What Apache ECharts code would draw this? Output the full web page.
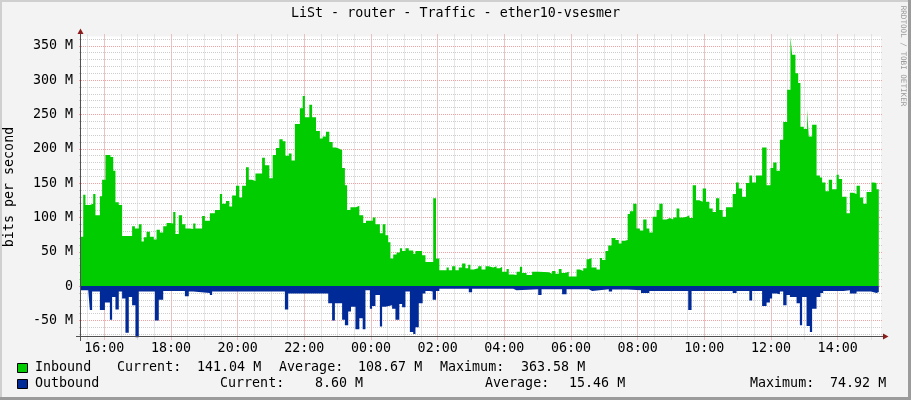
<!DOCTYPE html>
<html><head><meta charset="utf-8">
<script src="https://cdn.jsdelivr.net/npm/echarts@6/dist/echarts.min.js"></script>
<style>html,body{margin:0;padding:0;background:#f3f3f3}#c{width:911px;height:400px}</style>
</head><body><div id="c"></div>
<script>
// ---- text ----
const chartTitle = 'LiSt - router - Traffic - ether10-vsesmer';
const yAxisTitle = 'bits per second';
const watermark = 'RRDTOOL / TOBI OETIKER';
const seriesNames = ['Inbound', 'Outbound'];
const statLabels = ['Current:', 'Average:', 'Maximum:'];
const inboundStats = ['141.04', '108.67', '363.58'];
const outboundStats = ['8.60', '15.46', '74.92'];
const windowStart = '15:18';
const dataEnd = '15:14';

// ---- data: [step start time, M bits/s] ----
const inbound = [
 ['15:18',72],['15:22',133],['15:26',118],['15:34',120],['15:40',134],['15:44',103],['15:52',131],['15:56',155],['16:02',191],['16:11',188],
 ['16:16',168],['16:20',122],['16:26',118],['16:32',73],['16:50',87],['16:55',84],['17:02',90],['17:07',65],['17:11',71],['17:16',79],
 ['17:22',72],['17:29',68],['17:34',82],['17:40',78],['17:46',87],['17:52',92],['17:58',91],['18:04',108],['18:08',76],['18:14',103],
 ['18:20',90],['18:26',84],['18:34',83],['18:40',91],['18:44',84],['18:56',102],['19:01',95],['19:10',106],['19:19',111],['19:28',134],
 ['19:32',120],['19:39',124],['19:45',116],['19:50',132],['19:57',146],['20:03',129],['20:08',146],['20:15',173],['20:20',155],['20:26',153],
 ['20:32',164],['20:44',187],['20:49',176],['20:57',157],['21:03',191],['21:09',201],['21:15',214],['21:21',211],['21:26',190],['21:32',193],
 ['21:37',183],['21:43',236],['21:52',259],['21:57',277],['22:01',246],['22:09',264],['22:14',246],['22:21',226],['22:28',215],['22:33',218],
 ['22:39',225],['22:45',210],['22:51',202],['22:57',200],['23:03',198],['23:08',172],['23:13',147],['23:17',111],['23:23',115],['23:33',117],
 ['23:39',103],['23:46',92],['23:51',95],['00:03',100],['00:08',90],['00:16',77],['00:21',90],['00:26',74],['00:31',64],['00:35',40],
 ['00:40',46],['00:46',49],['00:52',55],['00:56',51],['01:02',55],['01:08',52],['01:16',47],['01:20',51],['01:32',45],['01:38',35],
 ['01:52',128],['01:57',40],['02:03',23],['02:16',27],['02:20',23],['02:26',29],['02:32',23],['02:38',27],['02:44',33],['02:50',26],
 ['02:55',31],['02:59',24],['03:05',26],['03:13',29],['03:19',24],['03:26',29],['03:32',27],['03:40',29],['03:46',26],['03:52',28],
 ['03:56',21],['04:04',25],['04:08',17],['04:16',16],['04:22',21],['04:28',28],['04:32',19],['04:40',16],['04:50',21],['05:02',20],
 ['05:20',18],['05:26',22],['05:32',18],['05:38',25],['05:43',19],['05:49',21],['05:56',14],['06:10',24],['06:16',22],['06:22',26],
 ['06:28',39],['06:32',41],['06:37',27],['06:46',24],['06:52',41],['06:56',38],['07:02',51],['07:07',59],['07:13',70],['07:20',67],
 ['07:26',62],['07:31',66],['07:37',67],['07:42',105],['07:46',109],['07:52',120],['07:58',84],['08:04',81],['08:10',97],['08:16',84],
 ['08:21',78],['08:27',101],['08:34',111],['08:39',120],['08:45',97],['08:52',99],['08:58',97],['09:04',100],['09:10',113],['09:15',100],
 ['09:22',101],['09:28',103],['09:33',99],['09:39',147],['09:45',125],['09:51',123],['09:57',142],['10:03',123],['10:09',113],['10:15',108],
 ['10:21',128],['10:27',111],['10:33',101],['10:39',115],['10:51',134],['10:57',151],['11:02',142],['11:08',130],['11:15',150],['11:21',161],
 ['11:26',151],['11:33',161],['11:44',202],['11:52',147],['11:59',172],['12:04',180],['12:10',168],['12:16',213],['12:22',239],['12:29',286],
 ['12:35',363.58],['12:38',337],['12:44',310],['12:49',296],['12:53',232],['12:59',229],['13:05',258],['13:08',218],['13:14',235],['13:22',161],
 ['13:28',158],['13:32',151],['13:38',138],['13:44',155],['13:50',141],['13:58',162],['14:02',156],['14:08',130],['14:16',106],['14:22',136],
 ['14:28',134],['14:34',146],['14:40',129],['14:46',120],['14:52',137],['15:01',151],['15:05',150],['15:10',141.04]
];
const outbound = [
 ['15:18',6],['15:31',8],['15:34',35],['15:38',8],['15:52',35],['16:01',24],['16:10',49],['16:14',16],['16:20',34],['16:26',8],
 ['16:32',18],['16:38',68],['16:44',16],['16:50',28],['16:56',74.92],['17:02',8],['17:31',50],['17:38',20],['17:46',7],['18:25',15],
 ['18:32',8],['18:40',10],['19:10',13],['19:14',8],['21:25',34],['21:31',11],['22:43',25],['22:50',50],['22:55',25],['23:08',49],
 ['23:13',57],['23:19',37],['23:24',30],['23:32',63],['23:39',47],['23:45',63],['23:50',6],['23:58',33],['00:02',29],['00:08',13],
 ['00:16',59],['00:20',30],['00:26',28],['00:38',33],['00:44',49],['00:51',26],['00:56',31],['01:02',8],['01:10',67],['01:16',70],
 ['01:20',60],['01:26',25],['01:33',11],['01:38',7],['01:46',8],['01:51',20],['01:57',7],['02:03',4],['02:56',9],['03:02',4],
 ['04:16',6],['04:22',4.5],['05:01',13],['05:07',4.5],['05:44',12],['05:52',4.5],['06:32',7],['06:38',4.5],['07:08',8],['07:14',5],
 ['07:42',6],['08:06',10],['08:21',7],['09:31',35],['09:37',7],['10:51',10],['10:58',7],['11:21',21],['11:26',7],['11:44',29],
 ['11:52',24],['11:58',18],['12:02',11],['12:10',12],['12:16',8],['12:22',28],['12:28',13],['12:34',16],['12:46',25],['12:52',57],
 ['12:56',16],['13:04',58],['13:10',67],['13:14',33],['13:22',16],['13:29',10],['13:34',7],['14:10',6],['14:22',11],['14:34',8],
 ['15:00',10],['15:10',8.6]
];

// ---- helpers ----
function toMin(s){const [h,m]=s.split(':').map(Number);let v=h*60+m;const st=15*60+18;return v<st?v+1440:v;}
const X0 = toMin(windowStart), X1 = X0 + 1440;
const Y_MAX = +inboundStats[2], Y_MIN = -outboundStats[2];
const P = {left:81, top:36.5, width:800, height:301};
const yPx = v => P.top + (Y_MAX - v) / (Y_MAX - Y_MIN) * P.height;
const xPx = m => P.left + (m - X0) / (X1 - X0) * P.width;
const EXT = 2;
const FONT = '"DejaVu Sans Mono", monospace';
const FS = 13.33;
const MINOR = '#cdcdcd';
const MAJOR = '#f0a0a0';
const DOT = [1,1];

function build(arr, sign){
  const d = arr.map(([t,v]) => [toMin(t), sign*v]);
  d.push([toMin(dataEnd), sign*arr[arr.length-1][1]]);
  return d;
}
function box(l, r, t, b){ return {left:l, top:t, width:r-l, height:b-t}; }

const grids = [
  Object.assign(box(P.left, P.left+P.width, P.top, P.top+P.height), {show:true, backgroundColor:'#ffffff', borderWidth:0}),
  box(P.left-EXT, P.left+P.width+EXT, yPx(360), yPx(-70)),
  box(P.left-EXT, P.left+P.width+EXT, yPx(350), yPx(-50)),
  box(xPx(930), xPx(2340), P.top-EXT, P.top+P.height+EXT),
  box(xPx(960), xPx(2280), P.top-EXT, P.top+P.height+EXT)
];
const hidden = (g) => ({type:'value', gridIndex:g, show:false, min:0, max:1});
const lineOnly = (g, min, max, interval, color) => ({
  type:'value', gridIndex:g, min, max, interval,
  axisLine:{show:false}, axisTick:{show:false}, axisLabel:{show:false},
  splitLine:{show:true, lineStyle:{color, width:1, type:DOT}}
});

const xAxes = [
  {type:'value', gridIndex:0, min:X0, max:X1, show:false},
  hidden(1), hidden(2),
  lineOnly(3, 930, 2340, 30, MINOR),
  Object.assign(lineOnly(4, 960, 2280, 120, MAJOR), {
    axisLabel:{show:true, margin:3, color:'#000', fontFamily:FONT, fontSize:FS,
      formatter: v => String(Math.floor(v/60)%24).padStart(2,'0') + ':00'}
  })
];
const yAxes = [
  {type:'value', gridIndex:0, min:Y_MIN, max:Y_MAX, show:false},
  lineOnly(1, -70, 360, 10, MINOR),
  Object.assign(lineOnly(2, -50, 350, 50, MAJOR), {
    axisLabel:{show:true, margin:6, color:'#000', fontFamily:FONT, fontSize:FS,
      formatter: v => v === 0 ? '0' : v + ' M'}
  }),
  hidden(3), hidden(4)
];

const txt = (x, y, text, extra) => Object.assign({
  type:'text', x, y, silent:true,
  style: Object.assign({text, font: FS + 'px ' + FONT, fill:'#000', align:'left', verticalAlign:'middle', textAlign:'left', textVerticalAlign:'middle'}, extra && extra.style)
}, extra && extra.el);

const graphics = [
  {type:'rect', shape:{x:0,y:0,width:911,height:2}, style:{fill:'#cfcfcf'}, silent:true},
  {type:'rect', shape:{x:0,y:0,width:2,height:400}, style:{fill:'#cfcfcf'}, silent:true},
  {type:'rect', shape:{x:908,y:0,width:3,height:400}, style:{fill:'#9b9b9b'}, silent:true},
  {type:'rect', shape:{x:0,y:397,width:911,height:3}, style:{fill:'#9b9b9b'}, silent:true},
  txt(455.5, 14, chartTitle, {style:{align:'center', textAlign:'center'}}),
  txt(10, (P.top + P.top + P.height)/2, yAxisTitle, {style:{align:'center', textAlign:'center'}, el:{rotation:Math.PI/2}}),
  txt(903, 56, watermark, {style:{align:'center', textAlign:'center', fill:'#9a9a9a', font:'7.6px ' + FONT}, el:{rotation:-Math.PI/2}}),
  // axes
  {type:'line', shape:{x1:P.left-0.5, y1:30, x2:P.left-0.5, y2:341}, style:{stroke:'#505050', lineWidth:1}, silent:true, z:10},
  {type:'line', shape:{x1:76, y1:336.5, x2:884, y2:336.5}, style:{stroke:'#505050', lineWidth:1}, silent:true, z:10},
  {type:'polygon', shape:{points:[[77.5,34],[83.5,34],[80.5,28.5]]}, style:{fill:'#8b1c1c'}, silent:true, z:10},
  {type:'polygon', shape:{points:[[883,333.5],[883,339.5],[888.5,336.5]]}, style:{fill:'#8b1c1c'}, silent:true, z:10},
  // legend
  {type:'rect', shape:{x:17.5,y:363.5,width:10,height:9}, style:{fill:'#00cc00', stroke:'#000', lineWidth:1}, silent:true},
  {type:'rect', shape:{x:17.5,y:379.5,width:10,height:9}, style:{fill:'#002a97', stroke:'#000', lineWidth:1}, silent:true},
  txt(35, 368, seriesNames[0]),
  txt(117, 368, statLabels[0]), txt(197, 368, inboundStats[0] + ' M'),
  txt(279, 368, statLabels[1]), txt(358, 368, inboundStats[1] + ' M'),
  txt(440, 368, statLabels[2]), txt(521, 368, inboundStats[2] + ' M'),
  txt(35, 384, seriesNames[1]),
  txt(220, 384, statLabels[0]), txt(315, 384, outboundStats[0] + ' M'),
  txt(485, 384, statLabels[1]), txt(569, 384, outboundStats[1] + ' M'),
  txt(750, 384, statLabels[2]), txt(830, 384, outboundStats[2] + ' M')
];

const chart = echarts.init(document.getElementById('c'), null, {renderer:'canvas'});
chart.setOption({
  animation:false,
  backgroundColor:'#f3f3f3',
  grid: grids,
  xAxis: xAxes,
  yAxis: yAxes,
  series: [
    {name:seriesNames[0], type:'line', xAxisIndex:0, yAxisIndex:0, step:'end', showSymbol:false, symbol:'none',
     lineStyle:{width:0}, areaStyle:{color:'#00cc00', opacity:1}, data: build(inbound, 1), z:3},
    {name:seriesNames[1], type:'line', xAxisIndex:0, yAxisIndex:0, step:'end', showSymbol:false, symbol:'none',
     lineStyle:{width:0}, areaStyle:{color:'#002a97', opacity:1}, data: build(outbound, -1), z:3}
  ],
  graphic: graphics
});
</script></body></html>
